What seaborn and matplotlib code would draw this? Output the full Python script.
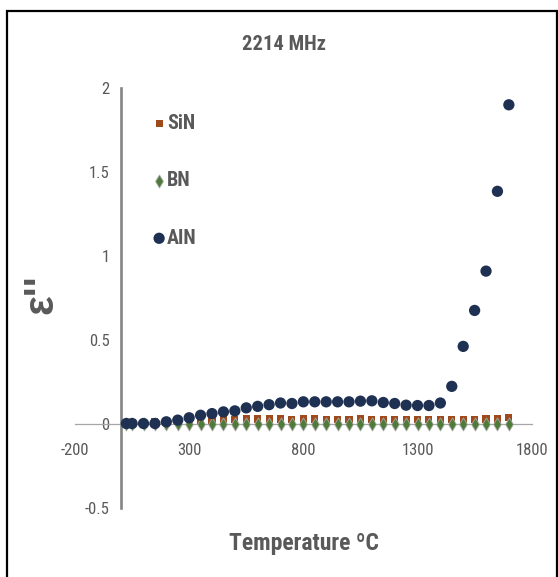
import matplotlib
matplotlib.use("Agg")
import matplotlib.pyplot as plt
import seaborn as sns
import pandas as pd
from matplotlib import font_manager
from matplotlib.patches import Rectangle

# Dielectric loss factor at 2214 MHz versus temperature
temperature = [25, 50, 100, 150, 200, 250, 300, 350, 400, 450, 500, 550, 600,
               650, 700, 750, 800, 850, 900, 950, 1000, 1050, 1100, 1150, 1200,
               1250, 1300, 1350, 1400, 1450, 1500, 1550, 1600, 1650, 1700]
sin_loss = [0.010, 0.010, 0.010, 0.012, 0.013, 0.015, 0.018, 0.022, 0.024,
            0.026, 0.028, 0.030, 0.030, 0.030, 0.030, 0.028, 0.030, 0.030,
            0.028, 0.028, 0.028, 0.030, 0.028, 0.028, 0.028, 0.027, 0.027,
            0.027, 0.027, 0.025, 0.025, 0.028, 0.030, 0.030, 0.040]
bn_loss = [0.001, 0.001, 0.001, 0.001, 0.001, 0.001, 0.002, 0.002, 0.002,
           0.002, 0.002, 0.002, 0.002, 0.002, 0.002, 0.002, 0.002, 0.002,
           0.002, 0.002, 0.002, 0.002, 0.002, 0.002, 0.002, 0.002, 0.002,
           0.002, 0.002, 0.002, 0.002, 0.002, 0.002, 0.002, 0.002]
ain_loss = [0.003, 0.003, 0.003, 0.003, 0.013, 0.023, 0.037, 0.052, 0.062,
            0.072, 0.078, 0.096, 0.105, 0.115, 0.125, 0.122, 0.132, 0.132,
            0.132, 0.132, 0.132, 0.136, 0.138, 0.128, 0.122, 0.112, 0.110,
            0.110, 0.125, 0.224, 0.462, 0.676, 0.910, 1.385, 1.900]

materials = ["SiN", "BN", "AIN"]
colors = {"SiN": "#9E4A1C", "BN": "#4F7B38", "AIN": "#1F3152"}
markers = {"SiN": "s", "BN": "d", "AIN": "o"}
marker_sizes = {"SiN": 26, "BN": 44, "AIN": 66}

x_ticks = [-200, 300, 800, 1300, 1800]
y_ticks = [-0.5, 0, 0.5, 1, 1.5, 2]
x_tick_labels = ["-200", "300", "800", "1300", "1800"]
y_tick_labels = ["-0.5", "0", "0.5", "1", "1.5", "2"]

title = "2214 MHz"
x_label = "Temperature \u00baC"
y_label = "\u03b5''"

sns.set_theme(style="white")
installed = {f.name for f in font_manager.fontManager.ttflist}
narrow_choices = ["Liberation Sans Narrow", "Roboto Condensed", "Open Sans Condensed"]
narrow = next((n for n in narrow_choices if n in installed), None)
base_font = narrow or "Liberation Sans"
if narrow:
    sizes = {"tick": 12, "legend": 14.5, "title": 14.8, "xlabel": 17}
else:
    sizes = {"tick": 11, "legend": 13, "title": 14, "xlabel": 16}
plt.rcParams["font.family"] = [base_font, "DejaVu Sans"]

grey_text = "#595959"

df = pd.DataFrame({
    "Temperature": temperature * 3,
    "Loss": sin_loss + bn_loss + ain_loss,
    "Material": ["SiN"] * len(temperature) + ["BN"] * len(temperature)
                + ["AIN"] * len(temperature),
})

W, H = 558, 577
fig = plt.figure(figsize=(W / 100, H / 100), dpi=100)
fig.patch.set_facecolor("white")
ax = fig.add_axes([75 / W, 1 - 508 / H, (531.7 - 75) / W, (508 - 88) / H])
ax.set_facecolor("none")

for m in materials:
    sub = df[df["Material"] == m]
    sns.scatterplot(data=sub, x="Temperature", y="Loss", ax=ax,
                    color=colors[m], marker=markers[m], s=marker_sizes[m],
                    edgecolor="#a8a8a8" if m == "BN" else "none",
                    linewidth=0.6 if m == "BN" else 0,
                    label=m, zorder=3)

ax.set_xlim(-200, 1800)
ax.set_ylim(-0.5, 2)
ax.set_xticks(x_ticks)
ax.set_xticklabels(x_tick_labels)
ax.set_yticks(y_ticks)
ax.set_yticklabels(y_tick_labels)
ax.set_xlabel("")
ax.set_ylabel("")

for side in ("top", "right"):
    ax.spines[side].set_visible(False)
ax.spines["left"].set_position(("data", 0))
ax.spines["left"].set_color("#858585")
ax.spines["left"].set_linewidth(1.9)
ax.spines["left"].set_zorder(2)
ax.spines["bottom"].set_position(("data", 0))
ax.spines["bottom"].set_color("#a6a6a6")
ax.spines["bottom"].set_linewidth(0.9)
ax.spines["bottom"].set_zorder(1)

ax.tick_params(axis="both", length=0, labelsize=sizes["tick"], labelcolor=grey_text)
ax.tick_params(axis="x", pad=14)
ax.tick_params(axis="y", pad=8)

leg = ax.legend(loc="upper left", bbox_to_anchor=(143 / W, 1 - 106 / H),
                bbox_transform=fig.transFigure, frameon=False,
                labelspacing=1.9, handletextpad=0.0, handlelength=0.8,
                borderaxespad=0, prop={"family": [base_font, "DejaVu Sans"],
                                       "weight": "bold", "size": sizes["legend"]})
for t in leg.get_texts():
    t.set_color(grey_text)

fig.text(284 / W, 1 - 45 / H, title, ha="center", va="center",
         fontsize=sizes["title"], fontweight="bold", color=grey_text)
fig.text(304 / W, 1 - 550 / H, x_label, ha="center", va="baseline",
         fontsize=sizes["xlabel"], fontweight="bold", color=grey_text)
fig.text(41 / W, 1 - 294 / H, y_label, ha="center", va="center",
         rotation=90, fontsize=30, fontweight="bold", color=grey_text,
         family=["Liberation Sans", "DejaVu Sans"])

# Outer frame around the chart area
frame = Rectangle((7 / W, -0.05), (556.5 - 7) / W, 1.05 - 11 / H,
                  transform=fig.transFigure, fill=False,
                  edgecolor="black", linewidth=1.6, zorder=10)
fig.patches.append(frame)

fig.savefig("out.png", dpi=100, facecolor="white")
